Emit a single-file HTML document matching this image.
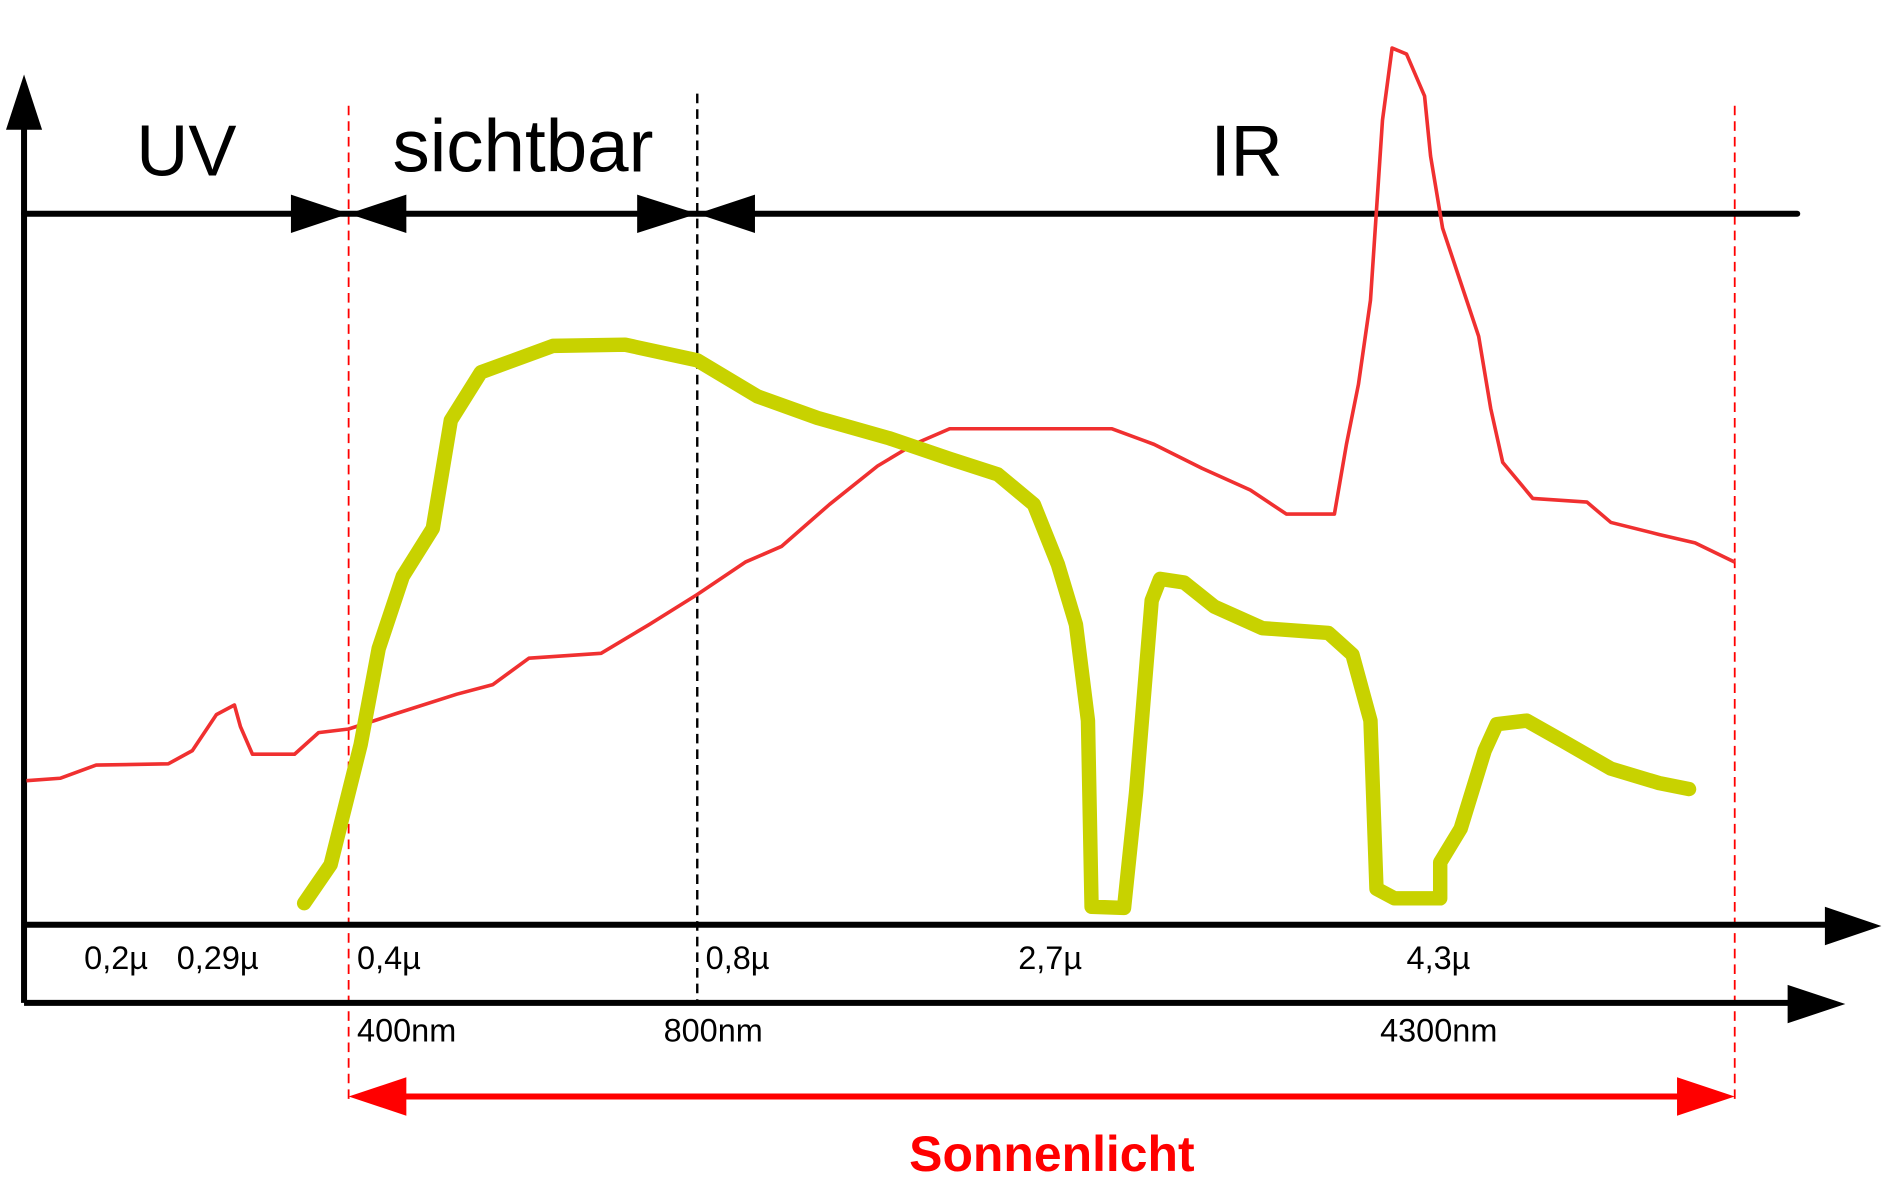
<!DOCTYPE html>
<html><head><meta charset="utf-8"><style>
html,body{margin:0;padding:0;background:#fff;}
svg{display:block;}
</style></head><body>
<svg width="1885" height="1189" viewBox="0 0 1568 990" preserveAspectRatio="none" xmlns="http://www.w3.org/2000/svg">
<rect width="1568" height="990" fill="#fff"/>
<line x1="290" y1="88" x2="290" y2="915" stroke="#f00" stroke-width="1.5" stroke-dasharray="8,5"/>
<line x1="1443" y1="88" x2="1443" y2="915" stroke="#f00" stroke-width="1.5" stroke-dasharray="8,5"/>
<line x1="580" y1="78" x2="580" y2="835" stroke="#000" stroke-width="2" stroke-dasharray="8,5"/>
<line x1="20" y1="835" x2="20" y2="100" stroke="#000" stroke-width="5"/>
<polygon points="5,108 20,62 35,108" fill="#000"/>
<line x1="20" y1="178" x2="1495" y2="178" stroke="#000" stroke-width="5" stroke-linecap="round"/>
<polygon points="242,162 290,178 242,194" fill="#000"/>
<polygon points="338,162 290,178 338,194" fill="#000"/>
<polygon points="530,162 580,178 530,194" fill="#000"/>
<polygon points="628,162 580,178 628,194" fill="#000"/>
<line x1="20" y1="770" x2="1525" y2="770" stroke="#000" stroke-width="5"/>
<polygon points="1518,755 1565,771 1518,787" fill="#000"/>
<line x1="20" y1="835" x2="1495" y2="835" stroke="#000" stroke-width="5"/>
<polygon points="1487,820 1535,836 1487,852" fill="#000"/>
<line x1="330" y1="913" x2="1400" y2="913" stroke="#f00" stroke-width="5"/>
<polygon points="290,913 338,897 338,929" fill="#f00"/>
<polygon points="1443,913 1395,897 1395,929" fill="#f00"/>
<polyline fill="none" stroke="#f03030" stroke-width="3" stroke-linejoin="round" points="22,650 50,648 80,637 140,636 160,625 180,595 195,587 200,605 210,628 245,628 265,610 290,607 330,594 380,578 410,570 440,548 500,544 540,520 580,495 620,468 650,455 690,420 730,388 760,370 790,357 925,357 960,370 1000,390 1040,408 1070,428 1110,428 1120,370 1130,320 1140,250 1150,100 1158,40 1170,45 1185,80 1190,130 1200,190 1220,250 1230,280 1240,340 1250,385 1275,415 1320,418 1340,435 1380,445 1410,452 1443,468"/>
<polyline fill="none" stroke="#c8d200" stroke-width="12" stroke-linejoin="round" stroke-linecap="round" points="253,752 275,720 285,680 300,620 315,540 335,480 360,440 375,350 400,310 460,288 520,287 580,300 630,330 680,348 740,365 790,382 830,395 860,420 880,470 895,520 905,600 908,755 935,756 945,660 958,500 965,482 985,485 1010,505 1050,523 1105,527 1125,545 1140,600 1145,740 1160,748 1198,748 1198,718 1215,690 1235,625 1245,603 1270,600 1300,617 1340,640 1380,652 1405,657"/>
<g font-family="Liberation Sans, sans-serif" fill="#000">
<text x="155" y="146" font-size="60" text-anchor="middle">UV</text>
<text x="435" y="143" font-size="62" text-anchor="middle">sichtbar</text>
<text x="1037" y="146" font-size="60" text-anchor="middle">IR</text>
<g font-size="27">
<text x="70" y="807">0,2µ</text>
<text x="147" y="807">0,29µ</text>
<text x="297" y="807">0,4µ</text>
<text x="587" y="807">0,8µ</text>
<text x="847" y="807">2,7µ</text>
<text x="1170" y="807">4,3µ</text>
<text x="297" y="867">400nm</text>
<text x="552" y="867">800nm</text>
<text x="1148" y="867">4300nm</text>
</g>
</g>
<text x="875" y="975" font-family="Liberation Sans, sans-serif" font-size="41.5" font-weight="bold" fill="#f00" text-anchor="middle">Sonnenlicht</text>
</svg>
</body></html>
